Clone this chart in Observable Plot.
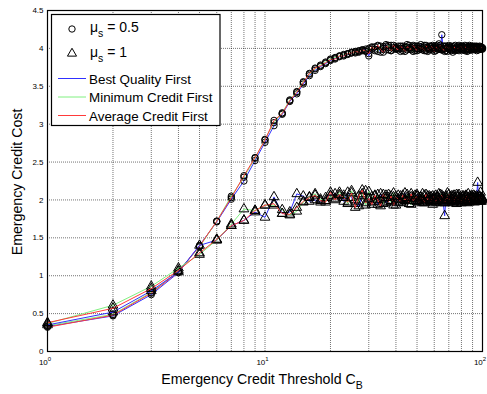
<!DOCTYPE html>
<html><head><meta charset="utf-8">
<script src="https://cdn.jsdelivr.net/npm/d3@7"></script>
<script src="https://cdn.jsdelivr.net/npm/@observablehq/plot@0.6"></script>
<style>body{margin:0;background:#fff;}</style>
</head><body><div id="chart"></div>
<script>
const thresholds = [1,2,3,4,5,6,7,8,9,10,11,12,13,14,15,16,17,18,19,20,
21,22,23,24,25,26,27,28,29,30,31,32,33,34,35,36,37,38,39,40,
41,42,43,44,45,46,47,48,49,50,51,52,53,54,55,56,57,58,59,60,
61,62,63,64,65,66,67,68,69,70,71,72,73,74,75,76,77,78,79,80,
81,82,83,84,85,86,87,88,89,90,91,92,93,94,95,96,97,98,99,100];

// mu_s = 0.5 (circles)
const mu05_bqf = [0.33,0.47,0.75,1.04,1.40,1.71,2.01,2.25,2.52,2.76,2.98,3.13,3.30,3.40,3.53,3.64,3.71,3.76,3.80,3.84,
3.87,3.89,3.91,3.92,3.94,3.95,3.96,3.97,3.99,3.90,
4.01,3.97,4.03,3.95,4.02,4.05,3.98,4.04,3.99,4.02,
4.00,3.96,4.03,4.01,3.98,4.04,3.99,4.02,3.97,4.03,
4.00,4.05,3.98,4.02,4.01,3.96,4.03,3.99,4.04,4.00,
3.97,4.02,4.06,3.99,4.18,3.98,4.03,4.00,3.96,4.04,
4.01,3.98,3.95,4.00,3.97,4.02,3.99,4.04,4.01,3.98,
4.02,4.00,3.97,4.03,3.99,4.01,4.04,3.98,4.02,4.00,
3.99,4.03,4.01,3.97,4.02,4.00,4.03,3.99,4.01,4.00];
const mu05_mcf = [0.34,0.49,0.78,1.06,1.38,1.72,2.05,2.30,2.55,2.80,3.02,3.15,3.32,3.43,3.56,3.66,3.73,3.78,3.82,3.86,
3.88,3.90,3.92,3.93,3.95,3.94,3.97,3.98,3.96,4.00,
3.99,4.02,3.96,4.03,4.00,3.98,4.04,3.97,4.01,3.99,
4.03,4.00,3.97,4.02,4.05,3.99,4.01,3.96,4.03,4.00,
3.98,4.02,4.00,4.04,3.97,4.01,3.99,4.03,3.98,4.02,
4.00,4.04,3.99,4.01,3.98,4.03,4.00,3.97,4.02,4.01,
3.99,4.03,3.98,4.00,4.04,3.99,4.01,3.97,4.02,4.00,
4.03,3.98,4.01,4.00,3.96,4.02,3.99,4.03,4.00,3.98,
4.02,4.01,3.99,4.03,3.98,4.01,4.00,4.02,3.99,4.01];
const mu05_acf = [0.32,0.48,0.77,1.05,1.39,1.72,2.03,2.32,2.56,2.79,3.05,3.14,3.31,3.42,3.55,3.67,3.74,3.77,3.81,3.85,
3.86,3.90,3.90,3.93,3.94,3.96,3.95,3.98,3.97,3.93,
4.02,3.99,4.04,3.98,3.95,4.03,4.01,3.97,4.04,4.00,
3.98,4.03,4.00,3.96,4.02,4.01,3.98,4.04,4.00,3.97,
4.03,3.99,4.01,3.97,4.04,4.00,3.98,4.02,4.01,3.96,
4.03,3.99,4.01,4.04,3.98,4.00,3.96,4.03,4.01,3.99,
4.02,3.97,4.00,4.03,3.99,4.01,3.98,4.02,4.00,4.03,
3.98,4.01,4.04,3.99,4.00,3.97,4.02,4.00,3.98,4.03,
4.00,3.99,4.02,4.00,4.01,3.98,4.02,4.00,4.01,3.99];

// mu_s = 1 (triangles)
const mu1_bqf = [0.35,0.52,0.80,1.05,1.40,1.47,1.66,1.73,1.84,1.77,2.04,1.82,1.84,2.08,2.05,1.98,2.00,1.97,2.03,2.06,
2.08,2.05,1.98,2.10,2.03,1.95,1.92,2.06,2.12,2.00,
1.97,2.05,1.94,2.08,2.02,1.96,2.07,1.99,2.04,1.93,
2.06,2.01,1.97,2.09,2.00,1.95,2.04,2.02,1.98,2.07,
1.99,2.03,1.96,2.06,2.01,1.98,2.05,2.00,1.94,2.04,
2.02,1.97,2.08,1.99,2.03,1.96,1.79,2.05,2.00,1.97,
2.04,2.01,1.98,2.06,2.00,1.95,2.03,2.07,1.99,2.02,
1.97,2.05,2.00,2.03,1.96,2.08,2.01,1.98,2.04,2.00,
2.06,1.97,2.02,2.05,2.23,1.99,2.04,2.10,1.98,2.02];
const mu1_mcf = [0.37,0.61,0.86,1.10,1.28,1.47,1.68,1.88,1.86,1.93,1.93,1.87,1.80,1.85,1.97,2.04,2.08,2.01,1.99,2.05,
2.02,2.10,2.06,1.95,2.12,2.00,1.98,2.08,1.93,2.11,
2.04,1.98,2.07,2.01,1.95,2.06,2.03,1.97,2.09,2.00,
1.96,2.05,2.02,1.99,2.07,2.01,1.94,2.04,2.06,1.98,
2.03,2.00,2.08,1.97,2.02,2.05,1.99,2.04,2.01,1.96,
2.06,2.03,1.98,2.07,2.00,2.04,1.97,2.02,2.09,1.99,
2.01,2.05,1.96,2.03,2.00,2.07,1.98,2.02,2.04,1.99,
2.05,2.01,1.97,2.06,2.02,1.99,2.04,2.00,2.03,1.98,
2.02,2.05,1.99,2.01,2.04,2.00,2.03,1.98,2.02,2.01];
const mu1_acf = [0.38,0.57,0.83,1.07,1.30,1.48,1.66,1.73,1.86,1.93,1.95,1.82,1.81,1.90,1.98,2.03,2.06,1.99,1.97,2.10,
2.00,2.07,2.03,1.97,2.09,1.90,2.05,2.13,1.96,2.02,
1.94,2.06,2.00,1.92,2.07,2.03,1.98,2.05,1.93,2.04,
2.01,1.97,2.06,2.00,2.03,1.95,2.08,1.99,2.02,2.05,
1.97,2.04,2.01,1.96,2.07,2.00,2.03,1.98,2.05,2.01,
1.97,2.04,2.02,1.99,2.06,2.00,1.96,2.03,2.01,2.07,
1.98,2.02,2.05,1.97,2.03,2.00,2.06,1.99,2.02,1.96,
2.04,2.01,1.98,2.05,2.00,2.03,1.97,2.02,2.06,1.99,
2.03,2.00,2.04,1.98,2.02,2.01,2.05,1.99,2.03,2.00];

const strategies = ["Best Quality First","Minimum Credit First","Average Credit First"];
const strategyColors = ["#3030ff","#80f080","#ff3a3a"];
const muLabels = ["0.5","1"];
const yTicks = [0,0.5,1,1.5,2,2.5,3,3.5,4,4.5];
const xMajor = [1,10,100];
const xExp = ["0","1","2"];
const xGridVals = [2,3,4,5,6,7,8,9,10,20,30,40,50,60,70,80,90];

const FONT = "'Liberation Sans', Arial, Helvetica, sans-serif";

const seriesDefs = [
  {mu: "0.5", strategy: strategies[0], values: mu05_bqf, symbol: "circle"},
  {mu: "0.5", strategy: strategies[1], values: mu05_mcf, symbol: "circle"},
  {mu: "0.5", strategy: strategies[2], values: mu05_acf, symbol: "circle"},
  {mu: "1", strategy: strategies[0], values: mu1_bqf, symbol: "triangle"},
  {mu: "1", strategy: strategies[1], values: mu1_mcf, symbol: "triangle"},
  {mu: "1", strategy: strategies[2], values: mu1_acf, symbol: "triangle"}
];

const seriesMarks = [];
for (const s of seriesDefs) {
  const rows = s.values.map((v, i) => ({x: thresholds[i], y: v}));
  const color = strategyColors[strategies.indexOf(s.strategy)];
  seriesMarks.push(Plot.line(rows, {x: "x", y: "y", stroke: color, strokeWidth: 1}));
  seriesMarks.push(Plot.dot(rows, {x: "x", y: "y", symbol: () => s.symbol, r: s.symbol === "circle" ? 3.2 : 3.6, stroke: "#000", fill: "none", strokeWidth: 1}));
}

const plot = Plot.plot({
  width: 487, height: 394,
  marginLeft: 47, marginRight: 5, marginTop: 10, marginBottom: 43,
  style: {fontFamily: FONT, fontSize: "8px", background: "#fff", color: "#000"},
  x: {type: "log", domain: [1, 100], ticks: xMajor, tickFormat: () => "", tickSize: 0, label: null},
  y: {domain: [0, 4.5], ticks: yTicks, tickFormat: d => String(d), tickSize: 0, tickPadding: 4, label: null},
  symbol: {type: "identity"},
  marks: [
    Plot.ruleX(xGridVals, {stroke: "#000", strokeOpacity: 0.55, strokeDasharray: "1,1"}),
    Plot.ruleY(yTicks, {stroke: "#000", strokeOpacity: 0.55, strokeDasharray: "1,1"}),
    ...seriesMarks,
    Plot.frame({stroke: "#000", strokeWidth: 1.2})
  ]
});
document.getElementById("chart").appendChild(plot);

const xs = plot.scale("x");
const svg = d3.select(plot);
const g = svg.append("g").attr("font-family", FONT).attr("fill", "#000").attr("text-anchor", "start");

// x tick labels with superscripts
xMajor.forEach((v, i) => {
  const t = g.append("text").attr("x", xs.apply(v) - 2).attr("y", 365).attr("font-size", 8).attr("text-anchor", "middle");
  t.append("tspan").text("10");
  t.append("tspan").attr("dy", -4).attr("font-size", 6).text(xExp[i]);
});

// x axis label
const xl = g.append("text").attr("x", 262).attr("y", 384).attr("font-size", 14.2).attr("text-anchor", "middle");
xl.append("tspan").text("Emergency Credit Threshold C");
xl.append("tspan").attr("dy", 5).attr("font-size", 10.5).text("B");

// y axis label
g.append("text").attr("transform", "translate(22,182) rotate(-90)").attr("font-size", 14.2).attr("text-anchor", "middle").text("Emergency Credit Cost");

// legend
const lg = g.append("g");
lg.append("rect").attr("x", 51.5).attr("y", 14.5).attr("width", 168.5).attr("height", 111).attr("fill", "#fff").attr("stroke", "#000").attr("stroke-width", 1.2);
lg.append("circle").attr("cx", 72).attr("cy", 29).attr("r", 3.2).attr("fill", "none").attr("stroke", "#000");
lg.append("path").attr("d", d3.symbol(d3.symbolTriangle, 36)()).attr("transform", "translate(72,53.5)").attr("fill", "none").attr("stroke", "#000");
muLabels.forEach((m, i) => {
  const t = lg.append("text").attr("x", 90).attr("y", 32 + i * 25).attr("font-size", 14).attr("text-anchor", "start");
  t.append("tspan").text("\u03bc");
  t.append("tspan").attr("dy", 5).attr("font-size", 10.5).text("s");
  t.append("tspan").attr("dy", -5).text(" = " + m);
});
strategies.forEach((s, i) => {
  const y = 78.5 + i * 18.5;
  lg.append("line").attr("x1", 58).attr("x2", 86).attr("y1", y).attr("y2", y).attr("stroke", strategyColors[i]).attr("stroke-width", 1);
  lg.append("text").attr("x", 89).attr("y", y + 5).attr("font-size", 13.4).attr("text-anchor", "start").text(s);
});
</script>
</body></html>
